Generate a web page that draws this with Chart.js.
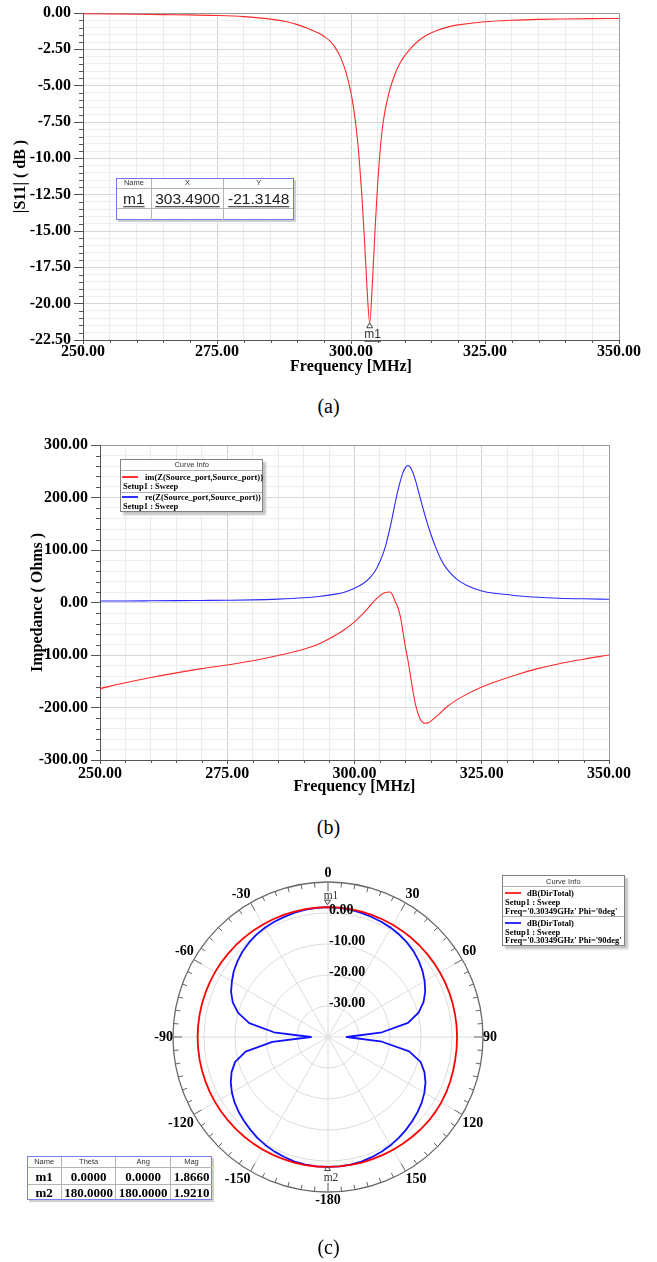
<!DOCTYPE html>
<html><head><meta charset="utf-8">
<script src="https://cdn.jsdelivr.net/npm/chart.js@4.4.1/dist/chart.umd.min.js"></script>
<style>
html,body{margin:0;padding:0;background:#fff;}
body{width:657px;height:1262px;position:relative;overflow:hidden;}
canvas{position:absolute;left:0;}
</style></head>
<body>
<canvas id="ca" width="657" height="380" style="top:0px"></canvas>
<canvas id="cb" width="657" height="375" style="top:425px"></canvas>
<canvas id="cc" width="657" height="422" style="top:840px"></canvas>
<script>
// ---------------- (a) |S11| data ----------------
const freqA = [250,255,260,265,270,275,280,285,288,290,292,294,295,296,297,298,299,300,300.5,301,301.5,302,302.5,303,303.49,304,304.5,305,305.5,306,307,308,309,310,311,312,314,316,318,320,325,330,335,340,345,350];
const s11dB = [-0.05,-0.07,-0.09,-0.11,-0.13,-0.17,-0.25,-0.42,-0.6,-0.8,-1.06,-1.4,-1.62,-1.9,-2.35,-3.0,-4.0,-5.5,-6.6,-8.0,-9.9,-12.4,-15.5,-19.0,-21.3148,-18.5,-14.8,-11.6,-9.2,-7.5,-5.6,-4.4,-3.55,-2.95,-2.5,-2.1,-1.55,-1.2,-0.97,-0.82,-0.6,-0.5,-0.44,-0.41,-0.39,-0.38];
const xTickLabels = ['250.00','275.00','300.00','325.00','350.00'];
const yTickLabelsA = ['0.00','-2.50','-5.00','-7.50','-10.00','-12.50','-15.00','-17.50','-20.00','-22.50'];
const markerA = {name:'m1', x:303.49, y:-21.3148};

// ---------------- (b) impedance data ----------------
const freqB = [250,255,260,265,270,275,280,285,290,293,296,298,300,302,303,304,305,306,307,307.5,308,308.5,309,309.5,310,310.5,311,311.5,312,312.5,313,313.5,314,314.5,315,316,317,318,320,322,325,328,332,336,340,345,350];
const imZ = [-164,-153,-143,-134,-126,-119,-111,-101,-89,-79,-64,-52,-37,-18,-7,4,13,19,20,14,2,-9,-26,-55,-85,-110,-140,-170,-195,-212,-224,-229,-230,-229,-226,-218,-209,-200,-186,-175,-161,-150,-137,-126,-117,-108,-100];
const reZ = [3,3,3.2,3.5,3.9,4.3,5,6.5,9,11.5,15.5,19.5,27,38,47,59,78,104,143,166,190,212,231,247,257,261,257,247,232,214,196,178,161,145,130,104,82,66,45,33,22,17,13,10,8.2,7,6.3];
const yTickLabelsB = ['300.00','200.00','100.00','0.00','-100.00','-200.00','-300.00'];

// ---------------- (c) radiation pattern data ----------------
const angles = [0,5,10,15,20,25,30,35,40,45,50,55,60,65,70,75,80,85,90,95,100,105,110,115,120,125,130,135,140,145,150,155,160,165,170,175,180,-175,-170,-165,-160,-155,-150,-145,-140,-135,-130,-125,-120,-115,-110,-105,-100,-95,-90,-85,-80,-75,-70,-65,-60,-55,-50,-45,-40,-35,-30,-25,-20,-15,-10,-5];
const dirPhi0 = [1.87,1.87,1.86,1.85,1.84,1.82,1.8,1.78,1.76,1.74,1.72,1.7,1.68,1.66,1.65,1.64,1.63,1.63,1.63,1.65,1.7,1.8,1.95,2.1,2.2,2.25,2.25,2.2,2.12,2.05,2.0,1.96,1.94,1.93,1.92,1.92,1.921,1.93,1.94,1.95,1.96,1.97,1.98,1.99,2.0,2.01,2.02,2.03,2.04,2.05,2.05,2.06,2.06,2.06,2.06,2.05,2.05,2.04,2.03,2.02,2.01,2.0,1.98,1.97,1.95,1.94,1.92,1.91,1.9,1.89,1.88,1.88];
const dirPhi90 = [1.866,1.82,1.68,1.45,1.2,0.95,0.65,0.25,-0.3,-0.95,-1.8,-2.8,-4.0,-5.4,-7.2,-9.8,-13.8,-22.5,-34.0,-22.5,-13.4,-9.1,-6.9,-5.3,-4.1,-3.1,-2.3,-1.6,-0.9,-0.25,0.35,0.85,1.25,1.6,1.82,1.91,1.92,1.91,1.82,1.6,1.2,0.8,0.3,-0.3,-1.0,-1.7,-2.4,-3.2,-4.2,-5.4,-6.9,-9.0,-13.0,-22.0,-34.5,-22.5,-14.2,-10.0,-7.3,-5.5,-4.2,-2.9,-1.9,-1.0,-0.3,0.3,0.7,1.0,1.25,1.5,1.7,1.83];
const angleTickValues = [0,30,60,90,120,150,180,-150,-120,-90,-60,-30];
const angleTickLabels = ['0','30','60','90','120','150','-180','-150','-120','-90','-60','-30'];
const rTickValues = [0,-10,-20,-30];
const rTickLabels = ['0.00','-10.00','-20.00','-30.00'];
const markersC = [{name:'m1', theta:0, ang:0, mag:1.8660},{name:'m2', theta:180, ang:180, mag:1.9210}];

// ---------------- common ----------------
const SERIF = "'Liberation Serif','Times New Roman',serif";
const SANS = "'Liberation Sans',Arial,sans-serif";
const tickFont = {family:SERIF, size:16, weight:'bold', lineHeight:1.2};
const titleFont = {family:SERIF, size:16, weight:'bold', lineHeight:1.2};
const near = (v, step) => Math.abs(v/step - Math.round(v/step)) < 1e-6;

function minorTickPlugin(yStep) {
  return {
    id:'minorTicks',
    afterDraw(chart){
      const {ctx} = chart; const xs = chart.scales.x, ys = chart.scales.y;
      ctx.save(); ctx.strokeStyle = '#555'; ctx.lineWidth = 1;
      ys.ticks.forEach(t => {
        if (!near(t.value, yStep)) {
          const y = Math.round(ys.getPixelForValue(t.value)) + 0.5;
          ctx.beginPath(); ctx.moveTo(ys.right - 4, y); ctx.lineTo(ys.right, y); ctx.stroke();
        }
      });
      xs.ticks.forEach(t => {
        if (!near(t.value, 25)) {
          const x = Math.round(xs.getPixelForValue(t.value)) + 0.5;
          ctx.beginPath(); ctx.moveTo(x, xs.top); ctx.lineTo(x, xs.top + 3); ctx.stroke();
        }
      });
      ctx.restore();
    }
  };
}

function cartOptions(cfg) {
  return {
    responsive:false, animation:false, events:[],
    layout:{padding:cfg.padding},
    plugins:{legend:{display:false}, tooltip:{enabled:false}},
    elements:{point:{radius:0}},
    scales:{
      x:{type:'linear', min:250, max:350,
        afterFit: s => { s.height = cfg.xH; },
        ticks:{stepSize:5, autoSkip:false, maxRotation:0, minRotation:0, padding:cfg.xPad, color:'#000', font:tickFont,
          callback: v => { const l = v.toFixed(2); return xTickLabels.includes(l) ? l : ''; }},
        grid:{tickLength:4, lineWidth:1,
          color: c => c.tick.value === 350 ? '#9a9a9a' : (near(c.tick.value,25) ? '#d2d2d2' : '#ebebeb'),
          tickColor: c => near(c.tick.value,25) ? '#555' : 'rgba(0,0,0,0)'},
        border:{color:'#555', width:1},
        title:{display:true, text:'Frequency [MHz]', color:'#000', font:titleFont, padding:{top:0, bottom:cfg.xTitlePad}}
      },
      y:{type:'linear', min:cfg.yMin, max:cfg.yMax,
        afterFit: s => { s.width = cfg.yW; },
        ticks:{stepSize:cfg.yStep, autoSkip:false, padding:3, color:'#000', font:tickFont,
          callback: v => { const l = v.toFixed(2); return cfg.yLabels.includes(l) ? l : ''; }},
        grid:{tickLength:9, lineWidth:1,
          color: c => c.tick.value === cfg.yMax ? '#9a9a9a' : (near(c.tick.value,cfg.yMajor) ? '#d6d6d6' : '#eeeeee'),
          tickColor: c => near(c.tick.value,cfg.yMajor) ? '#555' : 'rgba(0,0,0,0)'},
        border:{color:'#555', width:1},
        title:{display:true, text:cfg.yTitle, color:'#000', font:titleFont, padding:{top:cfg.yTitlePad, bottom:0}}
      }
    }
  };
}

// ---------------- chart (a) ----------------
const markerPluginA = {
  id:'markerA',
  afterDraw(chart){
    const {ctx} = chart; const xs = chart.scales.x, ys = chart.scales.y;
    const px = xs.getPixelForValue(markerA.x), py = ys.getPixelForValue(markerA.y);
    ctx.save();
    ctx.strokeStyle = '#444'; ctx.lineWidth = 1;
    ctx.beginPath(); ctx.moveTo(px-3, py+5); ctx.lineTo(px, py); ctx.lineTo(px+3, py+5); ctx.closePath(); ctx.stroke();
    ctx.fillStyle = '#333'; ctx.font = "12px " + SANS; ctx.textAlign = 'center'; ctx.textBaseline = 'middle';
    ctx.fillText(markerA.name, px+3, py+12);
    const w = ctx.measureText(markerA.name).width;
    ctx.beginPath(); ctx.moveTo(px+3-w/2, py+18.5); ctx.lineTo(px+3+w/2, py+18.5); ctx.stroke();
    ctx.restore();
  }
};
const optsA = cartOptions({padding:{top:13, right:38, left:0, bottom:0}, xH:40, xPad:-2, xTitlePad:3.5,
  yMin:-22.5, yMax:0, yStep:0.5, yMajor:2.5, yW:83, yLabels:yTickLabelsA, yTitle:'|S11| ( dB )', yTitlePad:11.5});
new Chart(document.getElementById('ca'), {
  type:'line',
  data:{datasets:[{data:freqA.map((f,i)=>({x:f, y:s11dB[i]})), borderColor:'#ff2a2a', borderWidth:1.1, fill:false, cubicInterpolationMode:'monotone'}]},
  options:optsA,
  plugins:[minorTickPlugin(2.5), markerPluginA]
});

// ---------------- chart (b) ----------------
const optsB = cartOptions({padding:{top:20, right:48, left:0, bottom:0}, xH:40, xPad:0, xTitlePad:3.7,
  yMin:-300, yMax:300, yStep:20, yMajor:100, yW:100, yLabels:yTickLabelsB, yTitle:'Impedance ( Ohms )', yTitlePad:28});
new Chart(document.getElementById('cb'), {
  type:'line',
  data:{datasets:[
    {label:'im(Z(Source_port,Source_port))', data:freqB.map((f,i)=>({x:f, y:imZ[i]})), borderColor:'#ff2a2a', borderWidth:1.1, fill:false, cubicInterpolationMode:'monotone'},
    {label:'re(Z(Source_port,Source_port))', data:freqB.map((f,i)=>({x:f, y:reZ[i]})), borderColor:'#2a2aff', borderWidth:1.1, fill:false, cubicInterpolationMode:'monotone'}
  ]},
  options:optsB,
  plugins:[minorTickPlugin(100)]
});

// ---------------- chart (c) ----------------
const polarDecor = {
  id:'polarDecor',
  afterDraw(chart){
    const s = chart.scales.r; const ctx = chart.ctx;
    const R = s.drawingArea; const n = chart.data.labels.length;
    ctx.save();
    ctx.strokeStyle = '#666'; ctx.lineWidth = 1;
    for (let i=0;i<n;i++){
      const major = angleTickValues.includes(angles[i]);
      const a = s.getPointPosition(i, R), b = s.getPointPosition(i, R - (major ? 9 : 5));
      ctx.beginPath(); ctx.moveTo(a.x, a.y); ctx.lineTo(b.x, b.y); ctx.stroke();
    }
    ctx.fillStyle = '#000'; ctx.font = "bold 14px " + SERIF; ctx.textBaseline = 'middle';
    const h = 16.8;
    angleTickValues.forEach((v,k) => {
      const i = angles.indexOf(v);
      const deg = Math.round(s.getIndexAngle(i) * 180 / Math.PI) % 360;
      const p = s.getPointPosition(i, R);
      let align = 'center';
      if (deg > 0 && deg < 180) align = 'left'; else if (deg > 180) align = 'right';
      let y = p.y;
      if (deg === 90 || deg === 270) y -= h/2; else if (deg > 270 || deg < 90) y -= h;
      ctx.textAlign = align;
      ctx.fillText(angleTickLabels[k], p.x, y + h/2);
    });
    ctx.textAlign = 'left';
    rTickValues.forEach((v,k) => {
      const y = s.yCenter - s.getDistanceFromCenterForValue(v);
      ctx.fillText(rTickLabels[k], s.xCenter + 1, y - 3);
    });
    // markers
    ctx.strokeStyle = '#444'; ctx.fillStyle = '#333'; ctx.font = "11.5px " + SERIF; ctx.textAlign = 'center';
    markersC.forEach(m => {
      const i = angles.indexOf(m.theta);
      const p = s.getPointPositionForValue(i, m.mag);
      const up = p.y < s.yCenter;
      ctx.beginPath();
      if (up) { ctx.moveTo(p.x-3.5, p.y-7); ctx.lineTo(p.x+2.5, p.y-7); ctx.lineTo(p.x-0.5, p.y-2.5); }
      else { ctx.moveTo(p.x-3.5, p.y+3.5); ctx.lineTo(p.x+2.5, p.y+3.5); ctx.lineTo(p.x-0.5, p.y-1); }
      ctx.closePath(); ctx.stroke();
      ctx.fillText(m.name, p.x + 3, up ? p.y - 11 : p.y + 11);
    });
    ctx.restore();
  }
};
new Chart(document.getElementById('cc'), {
  type:'radar',
  data:{labels:angles, datasets:[
    {label:"Phi='0deg'", data:dirPhi0, borderColor:'#ff0000', borderWidth:1.8, fill:false, pointRadius:0, tension:0, borderJoinStyle:'round'},
    {label:"Phi='90deg'", data:dirPhi90, borderColor:'#1010ff', borderWidth:1.8, fill:false, pointRadius:0, tension:0, borderJoinStyle:'round'}
  ]},
  options:{
    responsive:false, animation:false, events:[],
    layout:{padding:{left:173, right:174, top:42, bottom:70}},
    plugins:{legend:{display:false}, tooltip:{enabled:false}},
    scales:{r:{
      min:-40, max:10, beginAtZero:false, startAngle:0,
      ticks:{stepSize:10, display:false},
      pointLabels:{display:false},
      grid:{circular:true, color: c => c.tick.value === 10 ? '#6a6a6a' : '#dcdcdc', lineWidth: c => c.tick.value === 10 ? 1.3 : 1},
      angleLines:{display:true, lineWidth:1, color: c => angleTickValues.includes(angles[c.index]) ? '#dcdcdc' : 'rgba(0,0,0,0)'}
    }}
  },
  plugins:[polarDecor]
});

// ---------------- HTML overlays (tables, legends, captions) ----------------
function txt(s, x, y, font, o) {
  o = o || {};
  const d = document.createElement('div');
  d.textContent = s;
  d.style.cssText = 'position:absolute;left:'+x+'px;top:'+y+'px;font:'+font+';white-space:nowrap;line-height:1;color:'+(o.color||'#000')+
    ';transform:translate('+(o.center?'-50%':'0')+',-50%);'+(o.extra||'');
  document.body.appendChild(d);
}
function box(x, y, w, h, css) {
  const d = document.createElement('div');
  d.style.cssText = 'position:absolute;box-sizing:border-box;left:'+x+'px;top:'+y+'px;width:'+w+'px;height:'+h+'px;'+css;
  document.body.appendChild(d);
}
function hl(x1, x2, y, c, t) { t = t || 1; box(Math.round(x1), Math.round(y - t/2), Math.round(x2 - x1), t, 'background:'+c); }
function vl(x, y1, y2, c, t) { t = t || 1; box(Math.round(x - t/2), Math.round(y1), t, Math.round(y2 - y1), 'background:'+c); }

// table (a)
box(116, 177.5, 178, 42.5, 'background:#fff;border:1.4px solid #7474ee;box-shadow:2px 2px 0 #d0d0d0;');
vl(151.7, 178.5, 219, '#b4b4b4'); vl(223.3, 178.5, 219, '#b4b4b4');
hl(117, 293, 188.7, '#b4b4b4'); hl(117, 293, 208.7, '#b4b4b4');
txt('Name', 133.9, 183.2, '7.5px '+SANS, {center:true, color:'#333'});
txt('X', 187.5, 183.2, '7.5px '+SANS, {center:true, color:'#333'});
txt('Y', 258.7, 183.2, '7.5px '+SANS, {center:true, color:'#333'});
const u = 'text-decoration:underline;text-underline-offset:2px;';
txt(markerA.name, 133.9, 198.5, '15.5px '+SANS, {center:true, color:'#222', extra:u});
txt(markerA.x.toFixed(4), 187.5, 198.5, '15.5px '+SANS, {center:true, color:'#222', extra:u});
txt(markerA.y.toFixed(4), 258.7, 198.5, '15.5px '+SANS, {center:true, color:'#222', extra:u});

// legend (b)
box(120, 459.3, 143.3, 52.7, 'background:#fff;border:1px solid #808080;box-shadow:3px 3px 2px #c4c4c4;');
txt('Curve Info', 191.7, 465.3, '7.5px '+SANS, {center:true, color:'#333'});
hl(121, 262.3, 470.3, '#b0b0b0'); hl(121, 262.3, 492, '#b0b0b0');
hl(122, 138, 477, '#ff3030', 2);
hl(122, 138, 497, '#3030ff', 2);
const lf = 'bold 8.5px '+SERIF;
txt('im(Z(Source_port,Source_port))', 145, 477, lf);
txt('Setup1 : Sweep', 123, 485.7, lf);
txt('re(Z(Source_port,Source_port))', 145, 497, lf);
txt('Setup1 : Sweep', 123, 506.3, lf);

// legend (c)
box(502, 874.7, 122.7, 71.3, 'background:#fff;border:1px solid #808080;box-shadow:3px 3px 2px #c4c4c4;');
txt('Curve Info', 563.3, 881.5, '7.5px '+SANS, {center:true, color:'#333'});
hl(503, 623.7, 886.7, '#b0b0b0'); hl(503, 623.7, 916.7, '#b0b0b0');
hl(505, 521, 893.3, '#ff3030', 2);
hl(505, 521, 922.7, '#3030ff', 2);
txt('dB(DirTotal)', 527, 893.3, lf);
txt('Setup1 : Sweep', 505, 902.3, lf);
txt("Freq='0.30349GHz' Phi='0deg'", 505, 910.7, lf);
txt('dB(DirTotal)', 527, 922.7, lf);
txt('Setup1 : Sweep', 505, 931.7, lf);
txt("Freq='0.30349GHz' Phi='90deg'", 505, 940, lf);

// table (c)
box(26.7, 1156, 185.6, 44, 'background:#fff;border:1.4px solid #7c7cee;box-shadow:2px 2px 0 #d0d0d0;');
vl(61.7, 1157, 1199, '#b4b4b4'); vl(115.7, 1157, 1199, '#b4b4b4'); vl(170.7, 1157, 1199, '#b4b4b4');
hl(27.7, 211.3, 1167.7, '#b4b4b4'); hl(27.7, 211.3, 1184, '#b4b4b4');
const colC = [44.2, 88.7, 143.2, 191.5];
['Name','Theta','Ang','Mag'].forEach((h,k) => txt(h, colC[k], 1162, '7.5px '+SANS, {center:true, color:'#333'}));
markersC.forEach((m,r) => {
  const y = r === 0 ? 1176 : 1192.2;
  [m.name, m.theta.toFixed(4), m.ang.toFixed(4), m.mag.toFixed(4)].forEach((s,k) => txt(s, colC[k], y, 'bold 13px '+SERIF, {center:true}));
});

// captions
txt('(a)', 328.5, 406, '20px '+SERIF, {center:true});
txt('(b)', 328.5, 826.5, '20px '+SERIF, {center:true});
txt('(c)', 328.5, 1247, '20px '+SERIF, {center:true});
</script>
</body></html>
